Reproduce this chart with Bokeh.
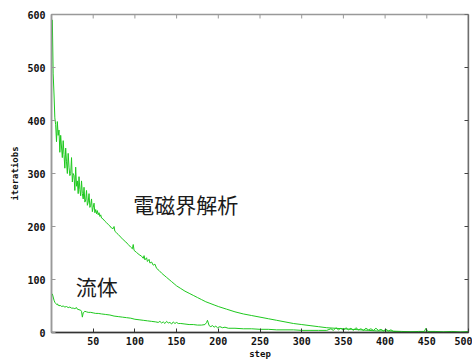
from bokeh.plotting import figure
from bokeh.models import FixedTicker, Range1d, Span
from bokeh.core.properties import value
from bokeh.embed import file_html
from bokeh.resources import INLINE

# 電磁界解析 (electromagnetic analysis) iterations per step
em_steps = [1, 2, 3, 4, 5, 6, 7, 8, 9, 10, 11, 12, 13, 14, 15, 16, 17, 18, 19, 20,
            21, 22, 23, 24, 25, 26, 27, 28, 29, 30, 31, 32, 33, 34, 35, 36, 37, 38, 39, 40,
            41, 42, 43, 44, 45, 46, 47, 48, 49, 50, 51, 52, 53, 54, 55, 56, 57, 58, 59, 60,
            62, 64, 66, 68, 70, 72, 74, 75, 76, 78, 80, 83, 86, 89, 92, 95, 97, 98, 99, 102,
            105, 108, 110, 111, 112, 114, 115, 117, 118, 120, 122, 124, 126, 129, 132, 135, 138, 141, 144, 147,
            150, 155, 160, 165, 170, 175, 180, 185, 190, 195, 200, 210, 220, 230, 240, 250, 260, 270, 280, 290,
            300, 310, 320, 330, 340, 350, 360, 370, 380, 390, 400, 420, 440, 460, 480, 500]
em_vals = [590, 488, 450, 405, 392, 360, 398, 372, 382, 340, 372, 350, 330, 362, 336, 310, 348, 322, 300, 338,
           312, 296, 300, 330, 284, 300, 296, 268, 312, 276, 286, 262, 294, 270, 258, 286, 262, 252, 274, 246,
           250, 268, 240, 246, 262, 236, 240, 252, 228, 236, 244, 226, 232, 224, 230, 222, 226, 219, 222, 216,
           214, 210, 207, 204, 201, 197, 196, 200, 191, 188, 185, 180, 175, 171, 166, 161, 158, 166, 155, 151,
           147, 144, 140, 145, 137, 141, 134, 138, 131, 133, 127, 129, 121, 117, 112, 108, 104, 100, 96, 92,
           88, 83, 78, 74, 70, 66, 62, 58, 55, 52, 49, 44, 39, 35, 32, 29, 26, 23, 20, 17,
           15, 13, 11, 9, 8, 7, 6, 5, 4, 3, 3, 2, 1, 1, 1, 0]

# 流体 (fluid) iterations per step
fl_steps = [1, 2, 3, 4, 5, 6, 7, 8, 9, 10, 11, 12, 14, 16, 18, 20, 22, 24, 26, 28,
            30, 31, 33, 35, 36, 37, 38, 40, 42, 44, 47, 50, 53, 56, 60, 65, 70, 75, 80, 85,
            90, 95, 100, 105, 110, 115, 120, 125, 128, 130, 132, 134, 136, 138, 140, 142, 144, 146, 148, 150,
            152, 155, 160, 165, 170, 175, 180, 184, 186, 187, 188, 189, 191, 193, 195, 197, 199, 202, 205, 208,
            212, 220, 230, 240, 250, 260, 270, 280, 290, 300, 310, 320, 330, 335, 338, 341, 344, 347, 350, 353,
            356, 359, 362, 365, 368, 371, 374, 377, 380, 383, 386, 389, 392, 395, 398, 401, 404, 407, 410, 420,
            430, 440, 447, 449, 451, 460, 470, 480, 490, 500]
fl_vals = [73, 67, 61, 57, 55, 53, 54, 51, 52, 50, 51, 49, 50, 48, 49, 47, 48, 46, 46, 45,
           47, 44, 43, 42, 40, 29, 37, 40, 39, 38, 38, 37, 36, 36, 35, 34, 33, 31, 30, 29,
           28, 27, 25, 24, 23, 22, 21, 20, 19, 21, 18, 20, 17, 21, 18, 19, 16, 20, 17, 19,
           17, 17, 16, 15, 15, 14, 14, 15, 19, 23, 18, 13, 11, 13, 10, 12, 9, 11, 9, 10,
           8, 8, 7, 7, 6, 6, 5, 5, 5, 4, 4, 4, 4, 7, 4, 9, 5, 8, 4, 9,
           5, 8, 4, 9, 5, 7, 4, 8, 5, 7, 4, 8, 4, 6, 3, 6, 3, 5, 2, 1,
           1, 2, 2, 8, 2, 2, 1, 2, 1, 2]

x_ticks = [50, 100, 150, 200, 250, 300, 350, 400, 450, 500]
y_ticks = [0, 100, 200, 300, 400, 500, 600]

labels = ["電磁界解析", "流体"]
label_x = [98, 29]
label_y = [243, 88]

X_MIN, X_MAX, Y_MIN, Y_MAX = 0, 500, 0, 600
LINE = "#1ec81e"
TICK_FONT = "DejaVu Sans Mono"
W, H = 472, 361
ML, MR, MT, MB = 51, 4, 14, 28

p = figure(width=W, height=H, output_backend="svg", toolbar_location=None,
           x_range=Range1d(X_MIN, X_MAX), y_range=Range1d(Y_MIN, Y_MAX),
           min_border_left=ML, min_border_right=MR, min_border_top=MT, min_border_bottom=MB,
           x_axis_label="step", y_axis_label="iteratiobs")
p.outline_line_color = "#999999"
p.outline_line_width = 1.5
p.xgrid.visible = False
p.ygrid.visible = False

p.line(em_steps, em_vals, line_color=LINE, line_width=1)
p.line(fl_steps, fl_vals, line_color=LINE, line_width=1)

p.text(x=label_x, y=label_y, text=labels, text_font=value("Noto Sans CJK JP"),
       text_font_size="21px", text_color="#1a1a1a", text_baseline="middle", text_align="left")

# mirrored inward ticks on top and right border
frame_w = W - ML - MR
frame_h = H - MT - MB
tick_px = 4
dy = tick_px * (Y_MAX - Y_MIN) / frame_h
dx = tick_px * (X_MAX - X_MIN) / frame_w
p.segment(x0=x_ticks, y0=[Y_MAX] * len(x_ticks), x1=x_ticks, y1=[Y_MAX - dy] * len(x_ticks),
          line_color="#999999", line_width=1)
p.segment(x0=[X_MAX] * len(y_ticks), y0=y_ticks, x1=[X_MAX - dx] * len(y_ticks), y1=y_ticks,
          line_color="#444444", line_width=1)
p.add_layout(Span(location=X_MAX, dimension="height", line_color="#444444", line_width=1.5))


def style(ax, ticks, color):
    ax.ticker = FixedTicker(ticks=ticks)
    ax.axis_line_color = color
    ax.axis_line_width = 1.5
    ax.major_tick_line_color = color
    ax.major_tick_in = tick_px
    ax.major_tick_out = 0
    ax.minor_tick_line_color = None
    ax.major_label_text_font = TICK_FONT
    ax.major_label_text_font_style = "bold"
    ax.major_label_text_font_size = "10px"
    ax.major_label_text_color = "#111111"
    ax.axis_label_text_font = TICK_FONT
    ax.axis_label_text_font_style = "bold"
    ax.axis_label_text_font_size = "9px"
    ax.axis_label_text_color = "#111111"


style(p.xaxis[0], x_ticks, "#333333")
p.xaxis[0].major_label_standoff = 4
p.xaxis[0].axis_label_standoff = 1
style(p.yaxis[0], y_ticks, "#999999")
p.yaxis[0].major_label_standoff = 6
p.yaxis[0].axis_label_standoff = 4

open("out.html", "w").write(file_html(p, INLINE))
